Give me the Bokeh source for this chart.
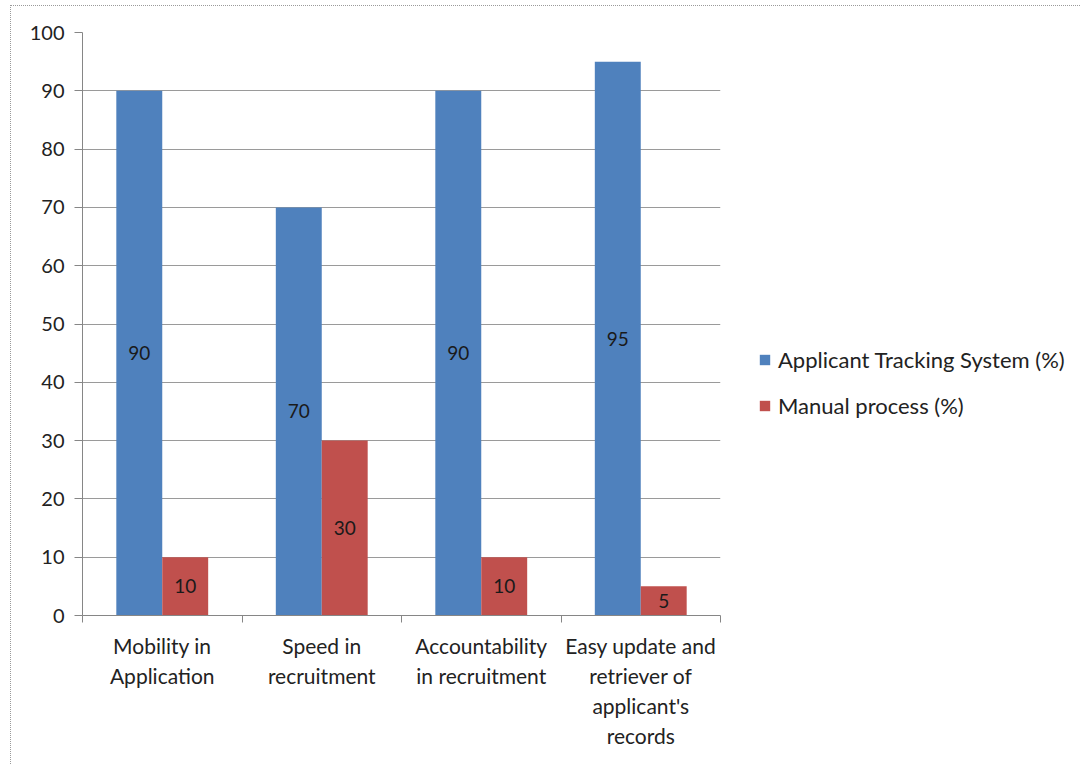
from bokeh.plotting import figure
from bokeh.models import ColumnDataSource, FixedTicker, Legend, LegendItem, LabelSet, Range1d
from bokeh.core.properties import value
from bokeh.embed import file_html
from bokeh.resources import INLINE

categories = ["Mobility in\nApplication", "Speed in\nrecruitment", "Accountability\nin recruitment",
              "Easy update and\nretriever of\napplicant's\nrecords"]
ats_values = [90, 70, 90, 95]
manual_values = [10, 30, 10, 5]
series_names = ["Applicant Tracking System (%)", "Manual process (%)"]
y_ticks = list(range(0, 101, 10))

BLUE = "#4F81BD"
RED = "#C0504D"
FONT = "Lato"
bw = 0.288
idx = list(range(len(categories)))

src_a = ColumnDataSource(dict(x=[i + 0.5 - bw / 2 for i in idx], top=ats_values,
                              mid=[v / 2 for v in ats_values], lab=[str(v) for v in ats_values]))
src_m = ColumnDataSource(dict(x=[i + 0.5 + bw / 2 for i in idx], top=manual_values,
                              mid=[v / 2 for v in manual_values], lab=[str(v) for v in manual_values]))

p = figure(width=1081, height=764, output_backend="svg", toolbar_location=None,
           x_range=Range1d(0, len(categories)), y_range=Range1d(0, 100),
           min_border_left=82, min_border_right=361, min_border_top=32, min_border_bottom=149)
p.frame_width = 638
p.frame_height = 583
p.outline_line_color = None
p.background_fill_color = "white"
p.border_fill_color = "white"
p.stylesheets = [":host::after { content: ''; position: absolute; left: 10px; top: 5px; "
                 "right: 4px; bottom: -20px; border: 1px dotted #9a9a9a; "
                 "pointer-events: none; z-index: 100; }"]

ra = p.vbar(x="x", top="top", width=bw, bottom=0, source=src_a, fill_color=BLUE, line_color=None)
rm = p.vbar(x="x", top="top", width=bw, bottom=0, source=src_m, fill_color=RED, line_color=None)

for s in (src_a, src_m):
    p.add_layout(LabelSet(x="x", y="mid", text="lab", source=s, text_align="center",
                          text_baseline="middle", text_font=value(FONT), text_font_size="19px",
                          text_color="#1a1a1a"))

# y axis
p.yaxis.ticker = FixedTicker(ticks=y_ticks)
p.yaxis.axis_line_color = "#868686"
p.yaxis.major_tick_line_color = "#868686"
p.yaxis.major_tick_out = 8
p.yaxis.major_tick_in = 0
p.yaxis.minor_tick_line_color = None
p.yaxis.major_label_text_font = FONT
p.yaxis.major_label_text_font_size = "20px"
p.yaxis.major_label_text_color = "#222222"
p.yaxis.major_label_standoff = 10
p.ygrid.grid_line_color = "#9a9a9a"
p.ygrid.ticker = FixedTicker(ticks=y_ticks)
p.xgrid.grid_line_color = None

# x axis
p.xaxis.ticker = FixedTicker(ticks=[i + 0.5 for i in idx], minor_ticks=list(range(len(categories) + 1)))
p.xaxis.major_label_overrides = {i + 0.5: c for i, c in enumerate(categories)}
p.xaxis.axis_line_color = "#868686"
p.xaxis.major_tick_line_color = None
p.xaxis.minor_tick_line_color = "#868686"
p.xaxis.minor_tick_out = 7
p.xaxis.minor_tick_in = 0
p.xaxis.major_label_text_font = FONT
p.xaxis.major_label_text_font_size = "21px"
p.xaxis.major_label_text_color = "#222222"
p.xaxis.major_label_standoff = 10
p.xaxis.major_label_text_line_height = 1.2

legend = Legend(items=[LegendItem(label=series_names[0], renderers=[ra]),
                       LegendItem(label=series_names[1], renderers=[rm])],
                location=(38, 196), padding=0, margin=0, spacing=19,
                glyph_width=13, glyph_height=13, label_height=22, label_standoff=7,
                label_text_font=FONT, label_text_font_size="22px", label_text_color="#222222",
                background_fill_alpha=0, border_line_alpha=0)
p.add_layout(legend, "right")

open("out.html", "w").write(file_html(p, INLINE))
